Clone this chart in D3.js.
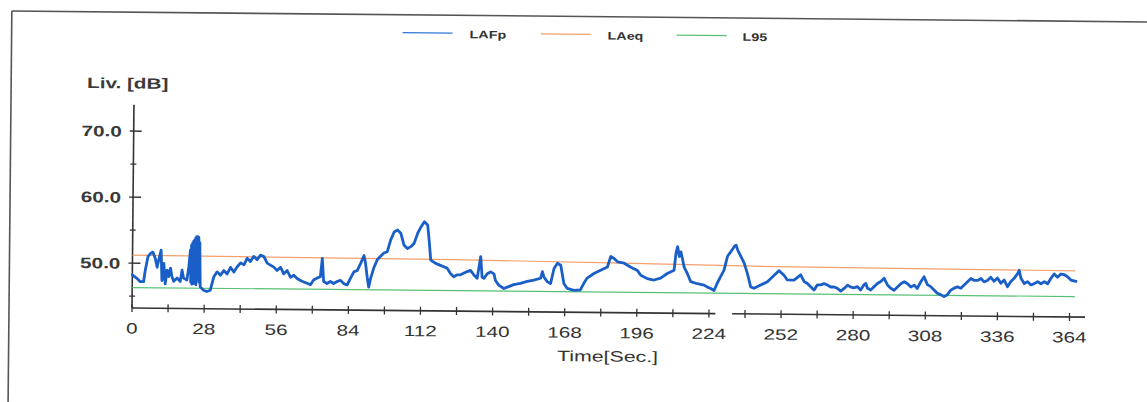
<!DOCTYPE html>
<html><head><meta charset="utf-8">
<script src="https://cdn.jsdelivr.net/npm/d3@7"></script>
<style>html,body{margin:0;padding:0;background:#fff;overflow:hidden}</style>
</head><body>
<svg id="c" width="1147" height="402"></svg>
<script>
// ---------- data ----------
const seriesNames = ["LAFp", "LAeq", "L95"];

const lafpTime = [0,1.8,3.1,4.4,5.0,6.0,7.0,7.9,8.9,9.6,10.2,11.1,11.5,12.2,12.8,13.5,14.1,14.8,15.4,16.1,17.4,18.6,19.3,19.9,21.2,21.9,22.5,22.7,22.9,23.1,23.3,23.5,23.7,23.9,24.1,24.3,24.5,24.7,24.9,25.1,25.3,25.5,25.7,25.9,26.1,26.4,27.7,29.0,30.3,31.6,32.9,34.2,35.5,36.8,38.1,39.4,40.7,42.0,43.3,44.5,45.8,47.1,48.4,49.7,51.0,52.3,53.6,54.9,56.2,57.5,58.8,60.1,61.4,62.7,64.0,65.3,66.6,67.9,69.2,70.4,71.7,73.0,73.7,74.3,75.6,76.9,78.2,79.5,80.8,82.1,83.4,84.7,86.0,87.3,88.6,89.9,90.5,91.2,91.8,92.5,93.8,95.1,96.3,97.6,98.9,100.2,101.5,102.8,104.1,105.4,106.7,108.0,109.3,110.6,111.9,113.2,114.5,115.1,115.8,117.7,119.6,120.9,122.2,123.5,124.8,126.1,
127.4,130.0,131.3,132.6,133.9,135.2,135.8,136.5,137.8,139.1,140.4,141.0,142.3,144.3,145.6,148.1,150.7,153.3,155.9,158.5,159.2,159.8,161.1,162.4,163.7,165.0,166.3,167.6,168.9,171.5,174.0,175.3,176.6,179.2,181.8,184.4,185.7,187.0,188.3,190.9,193.5,196.1,197.4,199.9,202.5,205.1,207.7,210.3,211.0,211.6,212.3,212.9,213.6,214.2,215.5,216.8,219.4,222.0,223.3,224.6,225.9,227.1,228.4,229.7,231.0,232.3,233.6,234.3,234.9,236.2,237.5,238.8,240.1,241.4,244.0,246.6,
249.2,251.1,253.0,254.3,256.9,259.5,260.8,262.1,263.4,264.7,266.0,267.3,268.6,269.9,271.2,272.5,273.8,275.1,276.4,277.7,279.0,280.2,281.5,282.8,284.1,284.8,285.4,286.7,288.0,289.3,290.6,291.9,293.2,294.5,295.8,297.1,298.4,299.7,301.0,302.3,303.6,304.8,306.1,307.4,308.7,310.0,311.3,312.6,313.9,315.2,316.5,317.8,319.1,320.4,321.7,323.0,324.3,325.6,326.9,328.2,329.5,330.7,332.0,333.3,334.6,335.9,337.2,338.5,339.8,341.1,342.4,343.7,344.3,345.0,346.3,347.6,348.9,350.2,351.5,352.8,354.1,355.4,356.6,357.9,359.2,360.5,361.8,363.1,364.4,366.4];

const lafpLevel = [48.2,47.7,47.2,47.2,48.9,51.0,51.5,51.7,50.7,49.4,50.5,52.0,47.4,50.0,46.9,49.0,48.0,49.3,48.0,47.3,47.8,47.3,49.0,47.8,47.5,49.5,52.1,47.2,52.8,46.9,53.1,47.5,53.4,47.0,53.6,48.0,53.9,46.8,54.1,47.5,54.1,48.2,54.0,47.2,53.2,46.5,46.0,45.8,46.0,48.0,48.8,48.3,49.0,48.5,49.5,48.8,49.6,50.2,49.9,50.9,50.4,51.2,50.7,51.4,51.2,50.2,49.9,49.6,49.1,49.6,48.6,49.1,48.1,48.4,47.9,47.6,47.4,47.2,47.0,47.7,48.0,48.2,51.0,47.5,47.2,47.5,47.2,47.5,47.7,47.2,47.0,48.0,49.0,49.2,50.3,51.5,50.3,48.2,46.7,48.0,49.7,50.9,51.4,51.9,52.1,53.9,55.1,55.4,54.9,53.1,52.6,52.9,53.4,54.9,55.9,56.7,56.2,53.9,50.9,50.4,50.1,49.9,49.7,48.9,48.4,48.7,
48.7,49.2,49.4,48.7,48.2,51.5,48.4,48.2,48.9,49.2,48.9,47.9,47.2,46.7,46.9,47.3,47.5,47.8,48.0,48.3,49.3,48.5,47.8,47.5,49.8,50.6,50.3,47.5,46.8,46.5,46.6,47.6,48.4,49.1,49.6,50.1,51.7,51.4,50.9,50.7,50.1,49.6,48.9,48.4,48.2,48.5,49.2,49.7,52.3,53.3,51.8,52.5,51.3,50.2,49.2,48.0,47.7,47.5,47.2,47.0,46.7,47.8,48.8,49.8,51.9,52.6,53.4,53.6,52.9,51.9,50.9,49.3,47.3,47.1,47.6,48.1,
49.1,49.8,49.1,48.4,48.4,49.2,48.2,47.9,47.4,46.9,47.7,47.7,47.9,47.7,47.4,47.4,47.2,46.8,47.2,47.7,47.4,47.3,47.5,47.0,47.8,48.0,47.3,47.0,47.5,48.0,48.3,48.8,47.8,47.3,47.0,47.5,48.0,48.3,48.0,47.5,47.8,47.3,48.3,49.1,47.9,47.6,47.1,46.6,46.4,46.1,46.4,47.1,47.4,47.6,47.4,47.9,48.4,48.9,48.6,48.6,48.9,48.4,48.6,49.1,48.5,49.0,48.2,48.7,47.7,48.5,49.0,49.7,50.2,49.0,48.2,48.5,48.0,48.2,48.5,48.2,48.5,48.2,49.0,49.7,49.2,49.7,49.6,49.3,48.8,48.6];

const laeqTime  = [0, 60, 125, 190, 250, 310, 366];
const laeqLevel = [51.2, 51.1, 51.0, 50.7, 50.4, 50.3, 50.2];

const l95Time  = [0, 366];
const l95Level = [46.3, 46.3];

const xMajorTicks = [0,28,56,84,112,140,168,196,224,252,280,308,336,364];
const xMinorTicks = [14,42,70,98,126,154,182,210,238,266,294,322,350];
const yMajorTicks = [50,60,70];
const yMinorTicks = [45,55,65];
const xAxisGap = [226.5, 233];
const yTitle = "Liv. [dB]";
const xTitle = "Time[Sec.]";

// ---------- drawing ----------
const svg = d3.select("#c");
const FONT = "'Liberation Sans', Arial, sans-serif";
const g = svg.append("g").attr("transform", "rotate(0.55,132,308)");

const x = d3.scaleLinear().domain([0, 370]).range([132, 1085]);
const y = d3.scaleLinear().domain([43.2, 74]).range([308, 104.7]);

// frame
g.append("line").attr("x1", 9).attr("y1", 12.2).attr("x2", 1160).attr("y2", 12.2)
  .attr("stroke", "#555").attr("stroke-width", 1.6);
g.append("line").attr("x1", 9).attr("y1", 12.2).attr("x2", 9).attr("y2", 420)
  .attr("stroke", "#555").attr("stroke-width", 1.6);

// legend
const legColors = {"LAFp": "#2f78d6", "LAeq": "#f3a06e", "L95": "#58c074"};
const legLineX = [400, 538, 674];
const legTextX = [467, 605, 740];
seriesNames.forEach((n, i) => {
  g.append("line").attr("x1", legLineX[i]).attr("x2", legLineX[i] + 50)
    .attr("y1", 30).attr("y2", 30).attr("stroke", legColors[n]).attr("stroke-width", 1.3);
  g.append("text").attr("transform", `translate(${legTextX[i]},35) scale(1.3,1)`)
    .attr("font-family", FONT).attr("font-size", 11).attr("font-weight", "bold")
    .attr("fill", "#333").text(n);
});

// axes lines
const axisColor = "#333";
g.append("line").attr("x1", x(0)).attr("x2", x(0)).attr("y1", y(43.2)).attr("y2", y(74))
  .attr("stroke", axisColor).attr("stroke-width", 1.6);
g.append("line").attr("x1", x(0)).attr("x2", x(xAxisGap[0])).attr("y1", y(43.2)).attr("y2", y(43.2))
  .attr("stroke", axisColor).attr("stroke-width", 1.6);
g.append("line").attr("x1", x(xAxisGap[1])).attr("x2", x(370)).attr("y1", y(43.2)).attr("y2", y(43.2))
  .attr("stroke", axisColor).attr("stroke-width", 1.6);

// x ticks
const y0 = y(43.2);
xMajorTicks.concat(xMinorTicks).forEach(t => {
  g.append("line").attr("x1", x(t)).attr("x2", x(t)).attr("y1", y0 - 4).attr("y2", y0 + 4)
    .attr("stroke", axisColor).attr("stroke-width", 1.3);
});
xMajorTicks.forEach(t => {
  g.append("text").attr("transform", `translate(${x(t)},${y0 + 25.5}) scale(1.38,1)`)
    .attr("text-anchor", "middle").attr("font-family", FONT).attr("font-size", 15)
    .attr("fill", "#333").text(t);
});

// y ticks
yMajorTicks.forEach(v => {
  g.append("line").attr("x1", x(0) - 4).attr("x2", x(0) + 8).attr("y1", y(v)).attr("y2", y(v))
    .attr("stroke", axisColor).attr("stroke-width", 1.4);
  g.append("text").attr("transform", `translate(120,${y(v) + 5.5}) scale(1.38,1)`)
    .attr("text-anchor", "end").attr("font-family", FONT).attr("font-size", 15)
    .attr("font-weight", "bold").attr("fill", "#3a3a3a").text(d3.format(".1f")(v));
});
yMinorTicks.forEach(v => {
  g.append("line").attr("x1", x(0) - 3).attr("x2", x(0) + 3).attr("y1", y(v)).attr("y2", y(v))
    .attr("stroke", axisColor).attr("stroke-width", 1.3);
});

// titles
g.append("text").attr("transform", "translate(85,88.5) scale(1.38,1)")
  .attr("font-family", FONT).attr("font-size", 15).attr("font-weight", "bold")
  .attr("fill", "#3a3a3a").text(yTitle);
g.append("text").attr("transform", "translate(608,357) scale(1.42,1)")
  .attr("text-anchor", "middle").attr("font-family", FONT).attr("font-size", 15)
  .attr("fill", "#333").text(xTitle);

// series
const line = d3.line().x(d => x(d[0])).y(d => y(d[1]));
const laeq = laeqTime.map((t, i) => [t, laeqLevel[i]]);
const l95 = l95Time.map((t, i) => [t, l95Level[i]]);
const lafp = lafpTime.map((t, i) => [t, lafpLevel[i]]);

g.append("path").datum(laeq).attr("d", line).attr("fill", "none")
  .attr("stroke", legColors["LAeq"]).attr("stroke-width", 1.2);
g.append("path").datum(l95).attr("d", line).attr("fill", "none")
  .attr("stroke", legColors["L95"]).attr("stroke-width", 1.2);
g.append("path").datum(lafp).attr("d", line).attr("fill", "none")
  .attr("stroke", "#1a5fc8").attr("stroke-width", 2.8)
  .attr("stroke-linejoin", "round").attr("stroke-linecap", "round");
</script>
</body></html>
